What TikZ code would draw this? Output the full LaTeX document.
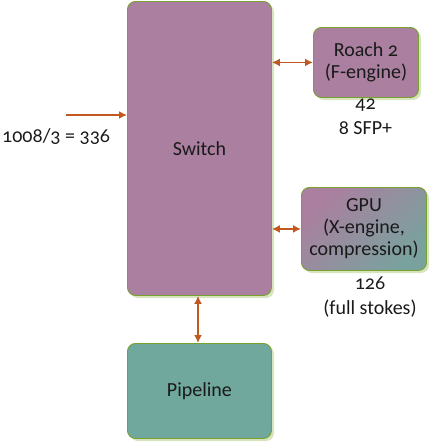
\documentclass[tikz,border=0pt]{standalone}
\usepackage{fontspec}
\setmainfont[Numbers=OldStyle]{Carlito}
\usetikzlibrary{arrows.meta,shadings}
\definecolor{boxpurple}{HTML}{AB7F9F}
\definecolor{boxteal}{HTML}{70A89E}
\definecolor{boxedge}{HTML}{77A22F}
\definecolor{shadowgreen}{HTML}{D7E4BD}
\definecolor{arrowc}{HTML}{C0581F}
\definecolor{txt}{HTML}{1A1A1A}
\tikzset{
  blk/.style={draw=boxedge, line width=0.9pt, rounded corners=8pt, text=txt, align=center, font=\fontsize{20}{22}\selectfont, inner sep=0pt},
  shad/.style={fill=shadowgreen, rounded corners=8pt},
  link/.style={draw=arrowc, line width=1.6pt, {Latex[length=8pt,width=8pt]}-{Latex[length=8pt,width=8pt]}},
  inlink/.style={draw=arrowc, line width=1.6pt, -{Latex[length=8pt,width=8pt]}},
  lbl/.style={text=txt, align=center, font=\fontsize{20}{25}\selectfont, inner sep=0pt}
}
\begin{document}
\begin{tikzpicture}[x=1pt,y=-1pt]
\useasboundingbox (0,0) rectangle (430,442);
% shadows
\fill[shad] (130,4) rectangle (274,298);
\fill[shad] (316,30) rectangle (421,100);
\fill[shad] (304,190) rectangle (429,273);
\fill[shad] (130,346) rectangle (274,441);
% boxes
\node[blk, fill=boxpurple, minimum width=144pt, minimum height=294pt, anchor=north west] (sw) at (127,1) {Switch};
\node[blk, fill=boxpurple, minimum width=105pt, minimum height=70pt, anchor=north west] (roach) at (313,27) {Roach 2\\(F-engine)};
\node[blk, shading=axis, top color=boxpurple, middle color=boxpurple, bottom color=boxteal!85!boxpurple, shading angle=45, minimum width=125pt, minimum height=83pt, anchor=north west] (gpu) at (301,187) {GPU\\(X-engine,\\compression)};
\node[blk, fill=boxteal, minimum width=144pt, minimum height=95pt, anchor=north west] (pipe) at (127,343) {Pipeline};
% labels
\node[lbl] (rlab) at (365.5,117) {42\\8 SFP+};
\node[lbl] (glab) at (370,297) {126\\(full stokes)};
\node[lbl, anchor=west] (inlab) at (2,137) {1008/3 = 336};
\coordinate (instart) at (66,115);
% connectors
\draw[link] (sw.east |- roach.west) -- (roach.west);
\draw[link] (sw.east |- gpu.west) -- (gpu.west);
\draw[link] (sw.south -| 198,0) -- (pipe.north -| 198,0);
\draw[inlink] (instart) -- (sw.west |- instart);
\end{tikzpicture}
\end{document}
